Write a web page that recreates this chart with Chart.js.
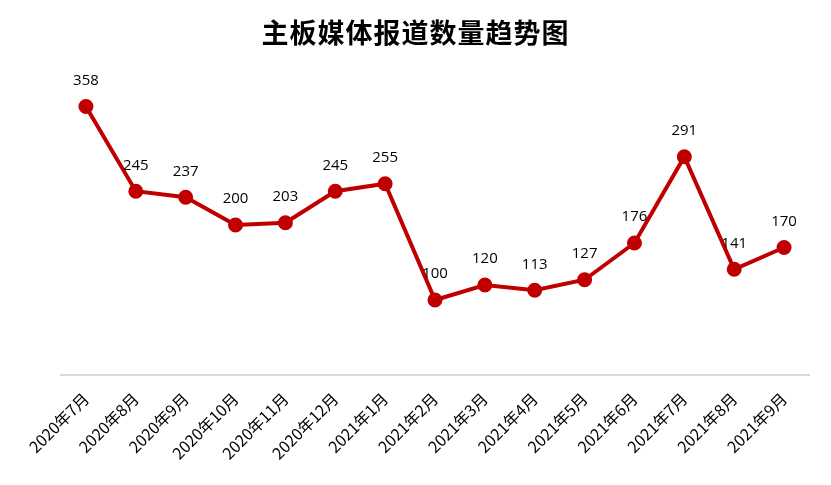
<!DOCTYPE html>
<html>
<head>
<meta charset="utf-8">
<script src="https://cdn.jsdelivr.net/npm/chart.js@4"></script>
<style>
  html, body { margin: 0; padding: 0; background: #fff; }
  #wrap { width: 831px; height: 485px; }
</style>
</head>
<body>
<div id="wrap"><canvas id="trend"></canvas></div>
<script>
// data
const months = ['2020年7月', '2020年8月', '2020年9月', '2020年10月', '2020年11月', '2020年12月',
  '2021年1月', '2021年2月', '2021年3月', '2021年4月', '2021年5月', '2021年6月',
  '2021年7月', '2021年8月', '2021年9月'];
const reports = [358, 245, 237, 200, 203, 245, 255, 100, 120, 113, 127, 176, 291, 141, 170];
const chartTitle = '主板媒体报道数量趋势图';

// value labels above each point + title centred on the whole canvas
const pointLabels = {
  id: 'pointLabels',
  afterDatasetsDraw(chart) {
    const ctx = chart.ctx;
    const meta = chart.getDatasetMeta(0);
    ctx.save();
    ctx.font = '15px "Open Sans", "DejaVu Sans", sans-serif';
    ctx.fillStyle = '#000';
    ctx.textAlign = 'center';
    ctx.textBaseline = 'middle';
    meta.data.forEach((pt, i) => {
      ctx.fillText(String(reports[i]), pt.x, pt.y - 26);
    });

    ctx.font = 'bold 27px "Noto Sans CJK SC", sans-serif';
    if ('letterSpacing' in ctx) ctx.letterSpacing = '1px';
    ctx.fillText(chartTitle, chart.width / 2, 33);
    ctx.restore();
  }
};

const ctx = document.getElementById('trend').getContext('2d');
const chart = new Chart(ctx, {
  type: 'line',
  data: {
    labels: months,
    datasets: [{
      label: '媒体报道数量',
      data: reports,
      borderColor: '#C00000',
      backgroundColor: '#C00000',
      borderWidth: 4,
      pointRadius: 5.5,
      pointHoverRadius: 5.5,
      pointBackgroundColor: '#C00000',
      pointBorderColor: '#C00000',
      tension: 0
    }]
  },
  options: {
    responsive: true,
    maintainAspectRatio: false,
    animation: false,
    layout: {
      padding: { left: 61, right: 22, top: 75, bottom: 0 }
    },
    plugins: {
      legend: { display: false },
      tooltip: { enabled: false },
      title: { display: false }
    },
    scales: {
      x: {
        offset: true,
        grid: { display: false },
        border: { display: true, color: '#d9d9d9', width: 2 },
        ticks: {
          color: '#000',
          maxRotation: 45,
          minRotation: 45,
          autoSkip: false,
          padding: 6,
          font: { family: '"Noto Sans CJK SC", "Open Sans", sans-serif', size: 16 }
        },
        afterFit(scale) { scale.height = 110; }
      },
      y: {
        display: false,
        min: 0,
        max: 400
      }
    }
  },
  plugins: [pointLabels]
});
</script>
</body>
</html>
